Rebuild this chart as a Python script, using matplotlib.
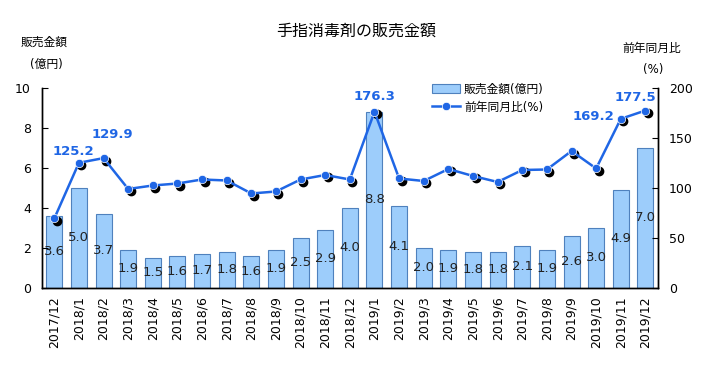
import numpy as np
import matplotlib
matplotlib.use("Agg")
import matplotlib.pyplot as plt
import matplotlib.transforms as mtransforms

plt.rcParams['font.family'] = ['DejaVu Sans', 'Noto Sans CJK JP']

# data
months = ['2017/12', '2018/1', '2018/2', '2018/3', '2018/4', '2018/5', '2018/6',
          '2018/7', '2018/8', '2018/9', '2018/10', '2018/11', '2018/12',
          '2019/1', '2019/2', '2019/3', '2019/4', '2019/5', '2019/6', '2019/7',
          '2019/8', '2019/9', '2019/10', '2019/11', '2019/12']
sales = [3.6, 5.0, 3.7, 1.9, 1.5, 1.6, 1.7, 1.8, 1.6, 1.9, 2.5, 2.9, 4.0,
         8.8, 4.1, 2.0, 1.9, 1.8, 1.8, 2.1, 1.9, 2.6, 3.0, 4.9, 7.0]
yoy = [69.5, 125.2, 129.9, 99.0, 102.5, 104.5, 108.5, 107.5, 94.5, 96.5,
       108.5, 113.0, 108.5, 176.3, 109.5, 107.0, 119.0, 112.0, 106.0, 118.0,
       118.5, 137.0, 119.5, 169.2, 177.5]
# labelled points and where their labels sit (pixel offsets)
yoy_labeled = {'2018/1': (-6, 11), '2018/2': (9, 24), '2019/1': (0, 15),
               '2019/11': (-27, 2), '2019/12': (-10, 13)}

bar_face = '#9dcdfb'
bar_edge = '#4f81bd'
line_col = '#1f66e5'

fig = plt.figure(figsize=(7.08, 3.73), dpi=100)
ax = fig.add_axes([0.0593, 0.228, 0.8697, 0.536])
ax2 = ax.twinx()

x = np.arange(len(months))
ax.bar(x, sales, width=0.65, color=bar_face, edgecolor=bar_edge, linewidth=0.8,
       label='販売金額(億円)')
for xi, v in zip(x, sales):
    ax.text(xi, v / 2, f'{v:.1f}', ha='center', va='center', fontsize=9.5, color='#222222')

# shadow for markers
shadow = mtransforms.offset_copy(ax2.transData, fig=fig, x=2.5, y=-2.5, units='dots')
ax2.plot(x, yoy, 'o', color='black', markersize=6, transform=shadow, zorder=2)
ax2.plot(x, yoy, '-o', color=line_col, linewidth=1.8, markersize=6,
         markeredgecolor='white', markeredgewidth=0.5, zorder=3, label='前年同月比(%)')
for xi, m, v in zip(x, months, yoy):
    if m in yoy_labeled:
        ax2.annotate(f'{v:.1f}', (xi, v), xytext=yoy_labeled[m], textcoords='offset pixels',
                     ha='center', va='center', fontsize=9.5, fontweight='bold', color=line_col)

ax.set_xlim(-0.5, len(months) - 0.5)
ax.set_ylim(0, 10)
ax2.set_ylim(0, 200)
ax.set_yticks([0, 2, 4, 6, 8, 10])
ax2.set_yticks([0, 50, 100, 150, 200])
ax.set_xticks(x)
ax.set_xticklabels(months, rotation=90, fontsize=9)
ax.tick_params(axis='y', direction='in', labelsize=9, length=4, pad=8)
ax2.tick_params(axis='y', direction='in', labelsize=9, length=4, pad=8)
ax.tick_params(axis='x', length=0, pad=6)
for a in (ax, ax2):
    a.spines['top'].set_visible(False)
    for s in ('left', 'right', 'bottom'):
        a.spines[s].set_linewidth(1.0)

fig.text(0.503, 0.917, '手指消毒剤の販売金額', ha='center', va='center', fontsize=11.5)
fig.text(0.063, 0.887, '販売金額', ha='center', va='center', fontsize=8.5)
fig.text(0.066, 0.826, '(億円)', ha='center', va='center', fontsize=8.5)
fig.text(0.92, 0.871, '前年同月比', ha='center', va='center', fontsize=8.5)
fig.text(0.922, 0.815, '(%)', ha='center', va='center', fontsize=8.5)

h1, l1 = ax.get_legend_handles_labels()
h2, l2 = ax2.get_legend_handles_labels()
ax2.legend(h1 + h2, l1 + l2, loc='upper left', bbox_to_anchor=(0.62, 1.07),
           frameon=False, fontsize=8.5, handlelength=2.4, handleheight=0.8,
           labelspacing=0.45, borderpad=0.2, handletextpad=0.3)

fig.savefig('out.png', dpi=100)
